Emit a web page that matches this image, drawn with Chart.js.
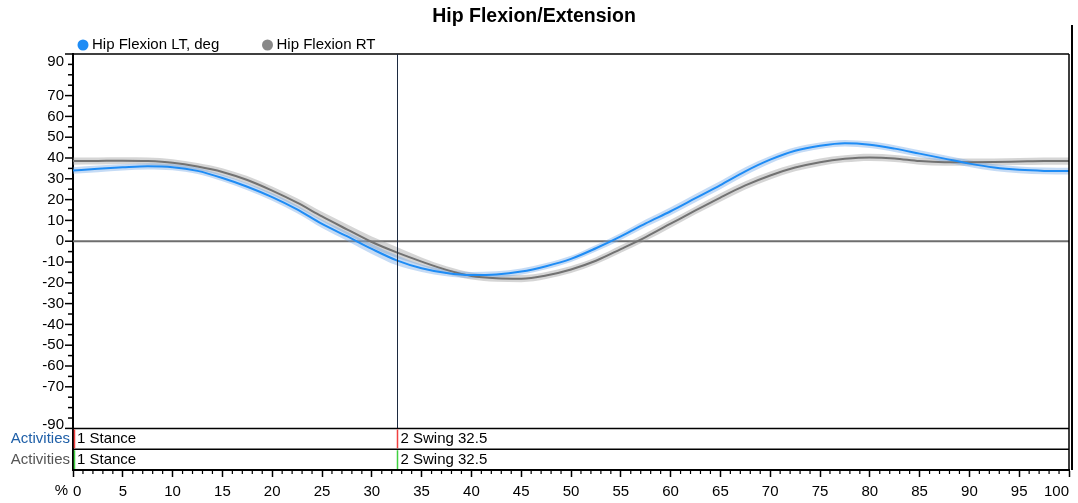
<!DOCTYPE html>
<html>
<head>
<meta charset="utf-8">
<script src="https://cdn.jsdelivr.net/npm/chart.js@4.4.0/dist/chart.umd.min.js"></script>
<style>
  html, body { margin: 0; padding: 0; background: #fff; }
</style>
</head>
<body>
<canvas id="graphiqueHanche" width="1078" height="503"></canvas>
<script>
// % du cycle de marche
const pct = [0, 2.5, 5, 7.5, 10, 12.5, 15, 17.5, 20, 22.5, 25, 27.5, 30, 32.5, 35, 37.5, 40, 42.5, 45, 47.5,
  50, 52.5, 55, 57.5, 60, 62.5, 65, 67.5, 70, 72.5, 75, 77.5, 80, 82.5, 85, 87.5, 90, 92.5, 95, 97.5, 100];

// Hip Flexion LT (moyenne + écart type)
const ltMean = [34.0, 34.8, 35.5, 36.0, 35.6, 33.8, 30.4, 26.2, 21.2, 15.3, 8.3, 2.4, -3.7, -9.2, -13.0, -15.3, -16.3, -16.0, -14.6, -12.0,
  -8.5, -3.4, 2.3, 8.6, 14.4, 20.7, 27.0, 33.6, 39.2, 43.5, 45.9, 47.1, 46.4, 44.5, 42.1, 39.7, 37.3, 35.4, 34.3, 33.8, 33.7];
const ltSd = [1.6, 1.6, 1.5, 1.5, 1.5, 1.5, 1.6, 1.7, 1.8, 1.9, 2.0, 2.2, 2.4, 2.4, 1.8, 1.6, 1.5, 1.5, 1.5, 1.5,
  1.5, 1.6, 1.7, 1.8, 1.9, 2.0, 2.0, 2.0, 1.8, 1.7, 1.6, 1.6, 1.6, 1.6, 1.6, 1.6, 1.6, 1.6, 1.6, 1.6, 1.6];

// Hip Flexion RT
const rtMean = [38.5, 38.6, 38.7, 38.5, 37.7, 35.9, 33.3, 29.4, 24.3, 18.5, 11.9, 5.7, -0.4, -5.4, -9.8, -13.8, -16.7, -17.8, -18.0, -16.5,
  -13.6, -9.4, -3.8, 2.0, 8.4, 14.8, 21.0, 26.8, 31.6, 35.4, 38.0, 39.6, 40.3, 39.8, 38.5, 38.0, 38.0, 38.1, 38.3, 38.5, 38.5];
const rtSd = [1.7, 1.7, 1.7, 1.7, 1.7, 1.7, 1.8, 1.9, 2.0, 2.1, 2.2, 2.4, 2.6, 2.6, 2.0, 1.8, 1.7, 1.7, 1.7, 1.7,
  1.7, 1.7, 1.8, 1.8, 1.9, 1.9, 2.0, 2.0, 1.9, 1.8, 1.8, 1.7, 1.7, 1.7, 1.7, 1.7, 1.7, 1.7, 1.7, 1.7, 1.7];

const yLabels = [90, 70, 60, 50, 40, 30, 20, 10, 0, -10, -20, -30, -40, -50, -60, -70, -90];
const activites = ['1 Stance', '2 Swing'];
const debutSwing = 32.5;

const police = "'Liberation Sans', Arial, sans-serif";
const bleu = '#1e8cf5';
const gris = '#727272';

function points(valeurs, decalage, signe) {
    return pct.map(function(p, i) {
        return { x: p, y: valeurs[i] + (decalage ? signe * decalage[i] : 0) };
    });
}

const habillage = {
    id: 'habillage',
    beforeDatasetsDraw(chart) { // ligne du zéro
        const ctx = chart.ctx, a = chart.chartArea, y = chart.scales.y;
        const y0 = y.getPixelForValue(0);
        ctx.save();
        ctx.strokeStyle = '#6e6e6e';
        ctx.lineWidth = 2;
        ctx.beginPath();
        ctx.moveTo(a.left, y0);
        ctx.lineTo(a.right, y0);
        ctx.stroke();
        ctx.restore();
    },
    afterDraw(chart) {
        const ctx = chart.ctx, a = chart.chartArea;
        const x = chart.scales.x, y = chart.scales.y;
        const yHaut = y.getPixelForValue(90);
        const yRang1 = y.getPixelForValue(-90);
        const yRang2 = y.getPixelForValue(-100);
        const yFin = y.getPixelForValue(-110);
        const xSwing = Math.round(x.getPixelForValue(debutSwing)) + 0.5;

        ctx.save();

        // titre
        ctx.fillStyle = '#000';
        ctx.font = 'bold 19.5px ' + police;
        ctx.textAlign = 'center';
        ctx.textBaseline = 'middle';
        ctx.fillText('Hip Flexion/Extension', 534, 17);

        // légende
        ctx.font = '15px ' + police;
        ctx.textAlign = 'left';
        [[83, bleu, 'Hip Flexion LT, deg'], [267.5, '#888', 'Hip Flexion RT']].forEach(function(item) {
            ctx.fillStyle = item[1];
            ctx.beginPath();
            ctx.arc(item[0], 45, 5.5, 0, Math.PI * 2);
            ctx.fill();
            ctx.fillStyle = '#000';
            ctx.fillText(item[2], item[0] + 9, 45);
        });

        // cadre haut + bord droit
        ctx.strokeStyle = '#000';
        ctx.lineWidth = 1.5;
        ctx.beginPath();
        ctx.moveTo(a.left, yHaut);
        ctx.lineTo(a.right, yHaut);
        ctx.moveTo(a.right, yHaut);
        ctx.lineTo(a.right, yFin);
        ctx.stroke();
        ctx.lineWidth = 2;
        ctx.beginPath();
        ctx.moveTo(1072, 25);
        ctx.lineTo(1072, yFin);
        ctx.stroke();

        // graduations axe Y
        ctx.lineWidth = 1.5;
        ctx.font = '15px ' + police;
        ctx.textAlign = 'right';
        for (let v = -90; v <= 90; v += 5) {
            const py = y.getPixelForValue(v);
            const majeur = yLabels.indexOf(v) !== -1;
            ctx.beginPath();
            ctx.moveTo(a.left - (majeur ? 8 : 5), py);
            ctx.lineTo(a.left, py);
            ctx.stroke();
            if (majeur) {
                let decal = 0;
                if (v === 90) decal = 8;
                if (v === -90) decal = -4;
                ctx.fillText(String(v), a.left - 9, py + decal);
            }
        }

        // ligne verticale du swing
        ctx.strokeStyle = '#1c2a40';
        ctx.lineWidth = 1;
        ctx.beginPath();
        ctx.moveTo(xSwing, yHaut);
        ctx.lineTo(xSwing, yRang1);
        ctx.stroke();

        // lignes des activités
        ctx.strokeStyle = '#000';
        ctx.lineWidth = 1.5;
        ctx.beginPath();
        [yRang1, yRang2].forEach(function(py) {
            ctx.moveTo(a.left, py);
            ctx.lineTo(a.right, py);
        });
        ctx.stroke();

        const lignes = [[yRang1, yRang2, '#f04040', '#2060a8'], [yRang2, yFin, '#40d040', '#555']];
        lignes.forEach(function(l) {
            const milieu = (l[0] + l[1]) / 2;
            ctx.strokeStyle = l[2];
            ctx.lineWidth = 1.5;
            ctx.beginPath();
            ctx.moveTo(a.left + 1.5, l[0] + 1);
            ctx.lineTo(a.left + 1.5, l[1] - 1);
            ctx.moveTo(xSwing, l[0] + 1);
            ctx.lineTo(xSwing, l[1] - 1);
            ctx.stroke();

            ctx.textAlign = 'right';
            ctx.fillStyle = l[3];
            ctx.fillText('Activities', a.left - 3, milieu);
            ctx.textAlign = 'left';
            ctx.fillStyle = '#000';
            ctx.fillText(activites[0], a.left + 4, milieu);
            ctx.fillText(activites[1] + ' ' + debutSwing, xSwing + 3, milieu);
        });

        // petites graduations axe X
        ctx.strokeStyle = '#000';
        ctx.lineWidth = 1.2;
        ctx.beginPath();
        for (let p = 0; p <= 100; p++) {
            if (p % 5 === 0) continue;
            const px = x.getPixelForValue(p);
            ctx.moveTo(px, a.bottom);
            ctx.lineTo(px, a.bottom + 4);
        }
        ctx.stroke();

        ctx.textAlign = 'right';
        ctx.fillText('%', a.left - 5, 491);

        ctx.restore();
    }
};

const ctx = document.getElementById('graphiqueHanche').getContext('2d');

const graphique = new Chart(ctx, {
    type: 'line',
    data: {
        datasets: [
            { label: 'Hip Flexion LT, deg', data: points(ltMean), borderColor: bleu, borderWidth: 2, order: 0 },
            { label: 'Hip Flexion RT', data: points(rtMean), borderColor: gris, borderWidth: 2, order: 1 },
            { label: 'lt haut', data: points(ltMean, ltSd, 1), borderWidth: 0, borderColor: 'transparent', order: 2 },
            { label: 'lt bas', data: points(ltMean, ltSd, -1), borderWidth: 0, borderColor: 'transparent',
              fill: { target: 2 }, backgroundColor: 'rgba(110, 165, 230, 0.4)', order: 2 },
            { label: 'rt haut', data: points(rtMean, rtSd, 1), borderWidth: 0, borderColor: 'transparent', order: 3 },
            { label: 'rt bas', data: points(rtMean, rtSd, -1), borderWidth: 0, borderColor: 'transparent',
              fill: { target: 4 }, backgroundColor: 'rgba(150, 150, 150, 0.4)', order: 3 }
        ]
    },
    options: {
        responsive: false,
        devicePixelRatio: 1,
        animation: false,
        layout: { padding: { top: 54, right: 9, left: 0, bottom: 0 } },
        elements: {
            point: { radius: 0 },
            line: { cubicInterpolationMode: 'monotone', fill: false }
        },
        plugins: {
            legend: { display: false },
            title: { display: false },
            tooltip: { enabled: false }
        },
        scales: {
            x: {
                type: 'linear',
                min: 0,
                max: 100,
                afterFit: function(scale) { scale.height = 33; },
                ticks: {
                    stepSize: 5,
                    align: 'inner',
                    padding: 6,
                    color: '#000',
                    font: { family: police, size: 15 }
                },
                grid: { drawOnChartArea: false, tickLength: 7, tickColor: '#000', tickWidth: 1.5 },
                border: { color: '#000', width: 2 }
            },
            y: {
                type: 'linear',
                min: -110,
                max: 90,
                afterFit: function(scale) { scale.width = 73; },
                ticks: { display: false },
                grid: { drawOnChartArea: false, drawTicks: false },
                border: { color: '#000', width: 2 }
            }
        }
    },
    plugins: [habillage]
});
</script>
</body>
</html>
